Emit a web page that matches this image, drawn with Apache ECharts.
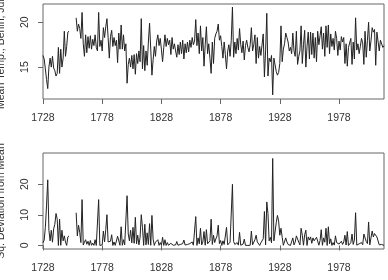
<!DOCTYPE html>
<html>
<head>
<meta charset="utf-8">
<script src="https://cdn.jsdelivr.net/npm/echarts@6/dist/echarts.min.js"></script>
<style>
html,body{margin:0;padding:0;background:#fff;}
#c{width:388px;height:280px;}
</style>
</head>
<body>
<div id="c"></div>
<script>
const startYear = 1728;
const xTickYears = [1728, 1778, 1828, 1878, 1928, 1978];
const tempTicks = [15, 20];
const sqTicks = [0, 10, 20];
// Mean July temperature, Berlin (deg C), 1728-2016 (null = missing)
const julyTemp = [
  16.3, 15.9, 14.8, 13.6, 12.6, 15.0, 16.0, 15.0, 16.2, 14.9,
  14.6, 14.0, 14.3, 17.2, 14.3, 17.0, 15.0, 16.0, 19.0, 16.2,
  17.3, 18.9, 19.0, null, null, null, null, null, 20.5, 19.0,
  19.8, 19.3, 18.2, 21.1, 17.6, 16.2, 18.6, 16.6, 18.4, 17.1,
  18.5, 17.0, 18.1, 17.4, 18.6, 17.2, 16.8, 21.1, 17.3, 18.0,
  16.8, 19.4, 18.3, 19.5, 20.4, 18.3, 16.0, 18.4, 19.1, 17.3,
  18.3, 17.4, 18.0, 15.5, 18.8, 17.0, 19.7, 17.0, 18.6, 16.8,
  17.6, 13.2, 15.3, 16.0, 15.0, 16.3, 14.8, 16.4, 14.2, 16.5,
  15.4, 16.8, 15.6, 20.4, 14.8, 17.4, 14.6, 16.8, 15.2, 17.8,
  19.9, 17.0, 14.1, 15.8, 17.3, 16.2, 17.9, 18.6, 17.4, 18.2,
  17.0, 15.6, 17.2, 18.6, 17.3, 18.2, 17.5, 18.0, 16.4, 18.3,
  17.0, 17.6, 16.8, 16.1, 17.5, 16.4, 17.8, 16.5, 18.0, 15.9,
  17.6, 16.6, 17.8, 16.7, 18.0, 17.2, 18.3, 17.5, 17.9, 20.3,
  17.4, 18.8, 16.5, 19.6, 16.8, 18.3, 15.1, 17.5, 19.5, 16.5,
  17.6, 16.0, 14.3, 17.8, 15.4, 18.2, 18.7, 19.0, 19.8, 18.0,
  18.5, 17.3, 16.0, 17.8, 16.4, 14.8, 16.8, 17.5, 16.2, 18.0,
  21.7, 16.1, 17.8, 16.5, 18.2, 16.9, 19.3, 17.5, 16.6, 17.9,
  15.8, 17.4, 18.0, 17.2, 16.7, 17.5, 19.4, 16.8, 17.5, 18.6,
  15.4, 18.3, 16.0, 17.3, 16.3, 16.5, 18.7, 13.9, 16.8, 21.0,
  14.0, 16.0, 15.6, 16.3, 11.9, 16.0, 15.8, 14.5, 14.1, 14.4,
  15.4, 19.6, 15.6, 17.0, 17.6, 18.8, 18.3, 17.8, 16.8, 17.2,
  16.5, 18.8, 16.8, 16.2, 19.0, 15.3, 16.2, 16.8, 19.6, 15.4,
  17.5, 19.1, 15.0, 17.3, 18.9, 15.9, 18.9, 16.4, 18.8, 16.0,
  18.3, 15.6, 19.0, 17.5, 18.5, 19.5, 17.0, 18.8, 16.2, 19.6,
  17.2, 19.7, 16.5, 18.7, 17.3, 18.2, 16.9, 19.0, 18.2, 16.3,
  17.9, 16.9, 18.4, 17.8, 18.3, 15.4, 17.6, 15.1, 17.2, 17.0,
  18.2, 15.3, 17.8, 15.9, 20.5, 16.9, 17.6, 16.5, 17.3, 18.2,
  17.7, 15.3, 19.0, 16.1, 18.0, 20.0, 16.8, 17.9, 19.4, 18.9,
  19.2, 15.2, 18.9, 19.0, 16.8, 18.0, 17.8, 17.2, 17.4
];

const years = julyTemp.map((_, i) => startYear + i);
const valid = julyTemp.filter(v => v !== null);
const meanTemp = valid.reduce((a, b) => a + b, 0) / valid.length;
const sqDev = julyTemp.map(v => v === null ? null : (v - meanTemp) * (v - meanTemp));

const tempData = years.map((y, i) => [y, julyTemp[i]]);
const sqData = years.map((y, i) => [y, sqDev[i]]);

const FONT = 'Liberation Sans';
const TXT = '#333';
const AX = '#666';

function xAxisCfg(gridIndex) {
  return {
    type: 'value', gridIndex: gridIndex,
    min: 1728, max: 2016,
    axisLine: {show: false},
    splitLine: {show: false},
    axisTick: {show: true, length: 5, lineStyle: {color: AX, width: 1}, customValues: xTickYears},
    axisLabel: {show: true, color: TXT, fontFamily: FONT, fontSize: 10.5, margin: 14, customValues: xTickYears,
      formatter: v => String(v)}
  };
}
function yAxisCfg(gridIndex, min, max, ticks, name) {
  return {
    type: 'value', gridIndex: gridIndex,
    min: min, max: max,
    name: name, nameLocation: 'middle', nameRotate: 90, nameGap: 36,
    nameTextStyle: {color: TXT, fontFamily: FONT, fontSize: 10.5},
    axisLine: {show: false},
    splitLine: {show: false},
    axisTick: {show: true, length: 5, lineStyle: {color: AX, width: 1}, customValues: ticks},
    axisLabel: {show: true, color: TXT, fontFamily: FONT, fontSize: 10.5, rotate: 90, margin: 12, customValues: ticks,
      formatter: v => String(v)}
  };
}

const chart = echarts.init(document.getElementById('c'), null, {renderer: 'canvas'});
chart.setOption({
  backgroundColor: '#fff',
  animation: false,
  grid: [
    {left: 43, top: 4, width: 341, height: 95, show: true, borderColor: AX, borderWidth: 1, backgroundColor: 'transparent', containLabel: false, outerBoundsMode: 'none'},
    {left: 43, top: 153, width: 341, height: 96, show: true, borderColor: AX, borderWidth: 1, backgroundColor: 'transparent', containLabel: false, outerBoundsMode: 'none'}
  ],
  xAxis: [xAxisCfg(0), xAxisCfg(1)],
  yAxis: [
    yAxisCfg(0, 11.44, 22.04, tempTicks, 'Mean Temp., Berlin, July'),
    yAxisCfg(1, -1.16, 30.2, sqTicks, 'Sq. Deviation from Mean')
  ],
  series: [
    {type: 'line', xAxisIndex: 0, yAxisIndex: 0, data: tempData, showSymbol: false, connectNulls: false,
      lineStyle: {color: '#222', width: 1}, itemStyle: {color: '#222'}},
    {type: 'line', xAxisIndex: 1, yAxisIndex: 1, data: sqData, showSymbol: false, connectNulls: false,
      lineStyle: {color: '#222', width: 1}, itemStyle: {color: '#222'}}
  ]
});
</script>
</body>
</html>
